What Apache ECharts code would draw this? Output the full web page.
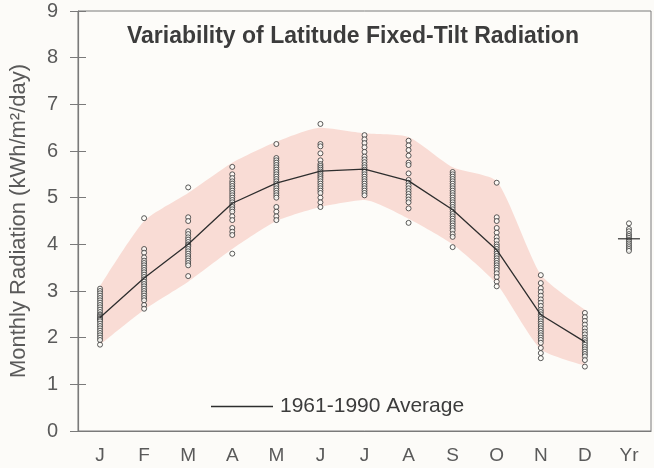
<!DOCTYPE html>
<html>
<head>
<meta charset="utf-8">
<script src="https://cdn.jsdelivr.net/npm/echarts@6/dist/echarts.min.js"></script>
<style>
  html, body { margin: 0; padding: 0; background: #fcfbf8; }
  #chart { width: 654px; height: 468px; }
</style>
</head>
<body>
<div id="chart"></div>
<script>
  // categories on the x axis
  const months = ['J', 'F', 'M', 'A', 'M', 'J', 'J', 'A', 'S', 'O', 'N', 'D', 'Yr']

  // 1961-1990 average, Jan..Dec
  const average = [2.43, 3.28, 4.0, 4.88, 5.31, 5.57, 5.61, 5.36, 4.74, 3.88, 2.49, 1.91]
  // yearly average (short horizontal mark at Yr)
  const yearAverage = [4.12]

  // pink variability band, Jan..Dec
  const bandLow = [1.85, 2.6, 3.2, 3.9, 4.5, 4.8, 4.95, 4.55, 4.0, 3.15, 1.75, 1.4]
  const bandHigh = [3.1, 4.5, 5.1, 5.75, 6.2, 6.5, 6.38, 6.3, 5.65, 5.35, 3.35, 2.6]

  // individual monthly values (open circles)
  const janValues = [3.05, 3.0, 2.95, 2.9, 2.85, 2.8, 2.75, 2.7, 2.65, 2.6, 2.55, 2.5, 2.48, 2.45, 2.42, 2.4, 2.38, 2.35, 2.3, 2.25, 2.2, 2.15, 2.1, 2.05, 2.0, 1.95, 1.85]
  const febValues = [4.56, 3.9, 3.82, 3.72, 3.65, 3.6, 3.55, 3.5, 3.45, 3.4, 3.35, 3.3, 3.25, 3.2, 3.15, 3.1, 3.05, 3.0, 2.95, 2.9, 2.85, 2.8, 2.7, 2.62]
  const marValues = [5.22, 4.58, 4.5, 4.28, 4.22, 4.15, 4.1, 4.05, 4.0, 3.98, 3.95, 3.9, 3.85, 3.8, 3.75, 3.7, 3.65, 3.6, 3.55, 3.32]
  const aprValues = [5.66, 5.5, 5.42, 5.35, 5.3, 5.25, 5.2, 5.15, 5.1, 5.05, 5.0, 4.95, 4.9, 4.85, 4.8, 4.75, 4.7, 4.6, 4.52, 4.35, 4.27, 4.2, 3.8]
  const mayValues = [6.15, 5.85, 5.8, 5.75, 5.7, 5.65, 5.6, 5.55, 5.5, 5.45, 5.4, 5.35, 5.3, 5.25, 5.2, 5.15, 5.1, 5.05, 5.0, 4.8, 4.7, 4.6, 4.52]
  const junValues = [6.58, 6.15, 6.1, 5.95, 5.8, 5.72, 5.68, 5.64, 5.6, 5.56, 5.52, 5.48, 5.44, 5.4, 5.35, 5.3, 5.25, 5.2, 5.15, 5.1, 5.0, 4.9, 4.8]
  const julValues = [6.34, 6.25, 6.17, 6.08, 5.98, 5.88, 5.82, 5.76, 5.7, 5.65, 5.6, 5.55, 5.5, 5.45, 5.4, 5.35, 5.3, 5.25, 5.2, 5.15, 5.1, 5.05]
  const augValues = [6.22, 6.12, 6.02, 5.9, 5.75, 5.7, 5.52, 5.38, 5.32, 5.26, 5.2, 5.14, 5.08, 5.02, 4.96, 4.9, 4.77, 4.46]
  const sepValues = [5.55, 5.5, 5.45, 5.4, 5.35, 5.3, 5.25, 5.2, 5.15, 5.1, 5.05, 5.0, 4.95, 4.9, 4.85, 4.8, 4.75, 4.7, 4.65, 4.6, 4.55, 4.5, 4.45, 4.4, 4.35, 4.3, 4.22, 4.16, 3.94]
  const octValues = [5.32, 4.58, 4.5, 4.35, 4.25, 4.15, 4.08, 4.0, 3.95, 3.9, 3.85, 3.8, 3.75, 3.7, 3.65, 3.6, 3.55, 3.5, 3.45, 3.38, 3.3, 3.2, 3.1]
  const novValues = [3.34, 3.17, 3.06, 2.98, 2.9, 2.82, 2.75, 2.68, 2.6, 2.55, 2.5, 2.45, 2.4, 2.35, 2.3, 2.25, 2.2, 2.15, 2.1, 2.05, 2.0, 1.95, 1.89, 1.78, 1.67, 1.56]
  const decValues = [2.53, 2.44, 2.36, 2.28, 2.2, 2.13, 2.07, 2.0, 1.95, 1.9, 1.85, 1.8, 1.75, 1.7, 1.65, 1.6, 1.52, 1.38]
  const yrValues = [4.45, 4.33, 4.28, 4.22, 4.18, 4.14, 4.1, 4.06, 4.02, 3.98, 3.94, 3.9, 3.86]

  const yTicks = [0, 1, 2, 3, 4, 5, 6, 7, 8, 9]

  const columns = [janValues, febValues, marValues, aprValues, mayValues, junValues,
    julValues, augValues, sepValues, octValues, novValues, decValues, yrValues]

  // scatter points as [category index, value]
  const getScatterData = () => {
    const points = []
    columns.forEach((col, i) => {
      col.forEach((v) => points.push([i, v]))
    })
    return points
  }

  const textGrey = '#5a5a5a'
  const axisGrey = '#7a7a7a'
  const font = 'Liberation Sans, Arial, sans-serif'

  const chart = echarts.init(document.getElementById('chart'))

  const option = {
    backgroundColor: '#fcfbf8',
    animation: false,
    title: {
      text: 'Variability of Latitude Fixed-Tilt Radiation',
      left: 122,
      top: 20,
      textStyle: { fontFamily: font, fontWeight: 'bold', fontSize: 23, color: '#3c3c3c' }
    },
    legend: {
      data: ['1961-1990 Average'],
      left: 206,
      top: 391,
      icon: 'rect',
      itemWidth: 62,
      itemHeight: 1.5,
      itemGap: 10,
      textStyle: { fontFamily: font, fontSize: 21, color: '#3c3c3c', padding: [0, 0, 0, 2] }
    },
    grid: {
      left: 77, right: 3, top: 11, bottom: 37,
      show: true,
      borderColor: axisGrey,
      borderWidth: 1,
      backgroundColor: '#fdfcf9'
    },
    xAxis: [
      {
        type: 'category',
        data: months,
        boundaryGap: true,
        axisLine: { lineStyle: { color: axisGrey, width: 1.2 } },
        axisTick: { alignWithLabel: true, length: 8, lineStyle: { color: axisGrey } },
        axisLabel: { margin: 15, fontFamily: font, fontSize: 19, color: textGrey }
      },
      {
        // inner half of the ticks
        type: 'category',
        data: months,
        position: 'bottom',
        boundaryGap: true,
        axisLine: { show: false },
        axisTick: { inside: true, alignWithLabel: true, length: 8, lineStyle: { color: axisGrey } },
        axisLabel: { show: false }
      }
    ],
    yAxis: [
      {
        type: 'value',
        min: 0,
        max: yTicks[yTicks.length - 1],
        interval: 1,
        name: 'Monthly Radiation (kWh/m²/day)',
        nameLocation: 'middle',
        nameGap: 48,
        nameTextStyle: { fontFamily: font, fontSize: 22, color: textGrey },
        splitLine: { show: false },
        axisLine: { show: true, lineStyle: { color: axisGrey, width: 1.2 } },
        axisTick: { show: true, length: 8, lineStyle: { color: axisGrey } },
        axisLabel: { margin: 20, fontFamily: font, fontSize: 20, color: textGrey }
      },
      {
        // inner half of the ticks
        type: 'value',
        position: 'left',
        min: 0,
        max: yTicks[yTicks.length - 1],
        interval: 1,
        splitLine: { show: false },
        axisLine: { show: false },
        axisTick: { show: true, inside: true, length: 8, lineStyle: { color: axisGrey } },
        axisLabel: { show: false }
      }
    ],
    series: [
      // band base (invisible)
      {
        name: 'bandLow',
        type: 'line',
        stack: 'band',
        data: bandLow,
        smooth: 0.2,
        symbol: 'none',
        lineStyle: { opacity: 0 },
        silent: true,
        z: 1
      },
      // band thickness
      {
        name: 'band',
        type: 'line',
        stack: 'band',
        data: bandHigh.map((h, i) => +(h - bandLow[i]).toFixed(2)),
        smooth: 0.2,
        symbol: 'none',
        lineStyle: { opacity: 0 },
        areaStyle: { color: '#f9dcd5', opacity: 1 },
        silent: true,
        z: 1
      },
      {
        name: 'values',
        type: 'scatter',
        data: getScatterData(),
        symbol: 'circle',
        symbolSize: 5,
        itemStyle: { color: '#fdfcf9', borderColor: '#333333', borderWidth: 1 },
        z: 3
      },
      {
        name: '1961-1990 Average',
        type: 'line',
        data: average,
        symbol: 'none',
        lineStyle: { color: '#2e2e2e', width: 1.3 },
        itemStyle: { color: '#2e2e2e' },
        z: 4
      },
      {
        name: 'yearAverage',
        type: 'scatter',
        data: yearAverage.map((v) => [12, v]),
        symbol: 'rect',
        symbolSize: [22, 1.5],
        itemStyle: { color: '#2e2e2e' },
        z: 4
      }
    ]
  }

  chart.setOption(option)
</script>
</body>
</html>
